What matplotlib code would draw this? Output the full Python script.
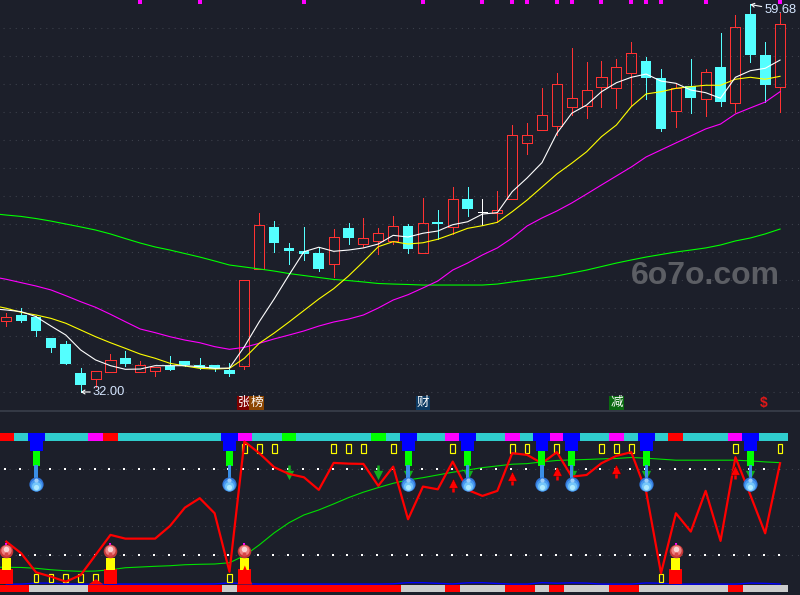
import matplotlib
matplotlib.use('Agg')
import matplotlib.pyplot as plt
import numpy as np

plt.rcParams['font.family'] = ['Liberation Sans', 'Noto Sans CJK SC', 'DejaVu Sans']

# daily candles
highs = [37.66, 38.00, 37.43, 35.84, 35.64, 33.69, 33.48, 34.71, 34.93, 34.21, 33.79, 34.57, 34.21, 34.43,
         33.93, 34.05, 39.98, 44.76, 44.21, 42.64, 43.79, 42.34, 43.64, 44.07, 44.43, 43.71, 44.57, 44.00,
         45.86, 45.00, 46.64, 46.64, 45.79, 46.36, 51.07, 51.19, 53.71, 54.79, 56.57, 55.57, 55.64, 55.79,
         57.00, 55.93, 55.07, 54.05, 55.79, 55.07, 57.64, 58.93, 59.68, 57.00, 59.07]
lows = [36.71, 37.00, 36.02, 34.88, 34.02, 32.00, 32.36, 33.45, 33.88, 33.45, 33.16, 33.57, 33.86, 33.64,
        33.50, 33.16, 33.64, 40.81, 42.02, 41.14, 41.43, 40.64, 40.21, 42.57, 42.38, 41.86, 42.59, 41.95,
        41.95, 42.91, 43.26, 44.57, 43.93, 44.14, 45.81, 49.02, 50.74, 50.36, 51.79, 51.59, 52.38, 52.31,
        52.50, 52.93, 50.66, 50.95, 51.95, 51.74, 52.43, 52.02, 55.57, 52.71, 52.02]
opens = [37.09, 37.50, 37.38, 35.84, 35.43, 33.36, 32.91, 33.45, 34.43, 33.45, 33.52, 33.88, 34.19, 33.93,
         33.93, 33.57, 33.88, 40.81, 43.79, 42.29, 42.07, 41.93, 41.16, 43.71, 42.59, 42.81, 42.81, 43.86,
         41.95, 44.14, 43.81, 45.79, 44.86, 44.81, 45.81, 49.81, 50.74, 51.02, 52.38, 52.45, 53.81, 53.74,
         54.81, 55.64, 54.43, 52.05, 53.86, 52.91, 55.21, 52.62, 59.00, 56.07, 53.76]
closes = [37.34, 37.09, 36.38, 35.16, 34.02, 32.52, 33.48, 34.26, 34.02, 33.91, 33.76, 33.57, 33.93, 33.74,
          33.64, 33.31, 39.98, 43.91, 42.66, 42.09, 41.86, 40.79, 43.05, 43.02, 42.98, 43.34, 43.84, 42.24,
          44.05, 44.02, 45.76, 45.09, 44.86, 45.00, 50.34, 50.34, 51.76, 53.98, 52.98, 53.55, 54.48, 55.19,
          56.19, 54.43, 50.79, 53.69, 53.00, 54.84, 52.74, 58.05, 56.07, 53.93, 58.26]

# moving averages, first value is the day before the visible window
ma5 = [37.95, 37.86, 37.74, 37.38, 36.71, 36.07, 35.00, 34.29, 33.88, 33.62, 33.64, 33.88, 33.88, 33.88, 33.81,
       33.69, 33.71, 35.24, 37.02, 38.64, 40.36, 42.02, 42.34, 42.05, 42.14, 42.29, 42.57, 43.19, 43.07,
       43.34, 43.50, 43.95, 44.16, 44.71, 44.81, 46.31, 47.29, 48.38, 50.48, 51.91, 52.50, 53.45, 54.09,
       54.48, 54.71, 54.21, 54.05, 53.57, 53.38, 52.98, 54.48, 54.95, 55.12, 55.71]
ma10 = [38.20, 37.98, 37.69, 37.50, 37.26, 36.91, 36.43, 35.95, 35.52, 35.12, 34.71, 34.41, 34.05, 33.86, 33.69,
        33.64, 33.69, 34.41, 35.48, 36.21, 37.00, 37.82, 38.64, 39.38, 40.29, 41.31, 42.38, 42.74, 42.57,
        42.66, 42.91, 43.29, 43.69, 43.88, 44.12, 44.88, 45.71, 46.64, 47.57, 48.34, 49.16, 50.24, 51.07,
        52.38, 53.29, 53.45, 53.69, 53.81, 53.91, 53.91, 54.34, 54.48, 54.34, 54.55]
ma20 = [40.25, 40.05, 39.81, 39.57, 39.29, 38.88, 38.45, 38.05, 37.55, 37.02, 36.50, 36.24, 35.95, 35.71, 35.52,
        35.24, 35.05, 35.19, 35.48, 35.79, 36.07, 36.36, 36.71, 37.00, 37.21, 37.50, 38.00, 38.57, 38.95,
        39.43, 39.93, 40.71, 41.21, 41.79, 42.29, 43.00, 43.86, 44.43, 44.93, 45.50, 46.14, 46.79, 47.43,
        48.07, 48.79, 49.29, 49.79, 50.29, 50.79, 51.14, 51.86, 52.29, 52.71, 53.45]
ma60 = [44.75, 44.64, 44.54, 44.39, 44.21, 44.00, 43.79, 43.57, 43.29, 42.96, 42.64, 42.36, 42.14, 41.89, 41.64,
        41.36, 41.07, 40.93, 40.79, 40.64, 40.46, 40.32, 40.18, 40.04, 39.96, 39.86, 39.75, 39.71, 39.68,
        39.64, 39.64, 39.64, 39.64, 39.64, 39.71, 39.86, 40.00, 40.14, 40.29, 40.50, 40.71, 40.96, 41.21,
        41.43, 41.64, 41.82, 42.00, 42.14, 42.29, 42.50, 42.79, 43.00, 43.29, 43.64]

# lower panel oscillator lines
osc_red = [29.3, 21.2, 7.9, 4.9, 1.4, 6.0, 20.0, 34.0, 31.4, 31.4, 31.4, 40.2, 53.0, 59.6, 49.1, 8.3, 99.1,
           91.0, 81.2, 76.5, 74.2, 65.4, 84.2, 83.7, 83.5, 68.2, 81.6, 44.9, 67.7, 65.8, 85.1, 65.4, 61.2,
           64.7, 91.0, 89.8, 84.0, 91.7, 74.6, 75.8, 84.0, 89.1, 91.7, 64.2, 7.2, 49.1, 36.3, 64.7, 29.8,
           88.2, 61.9, 35.1, 84.0]
osc_green = [11.5, 11.4, 11.3, 10.7, 9.7, 9.0, 8.6, 8.8, 9.7, 11.1, 11.6, 12.1, 12.5, 13.2, 13.5, 13.7, 14.6, 19.5,
             27.0, 35.4, 42.5, 47.9, 51.4, 55.6, 60.0, 63.8, 67.0, 70.0, 72.3, 73.9, 75.8, 77.7, 79.3, 80.9,
             82.1, 83.3, 83.7, 84.9, 85.9, 86.3, 86.6, 87.0, 87.3, 88.0, 87.5, 86.8, 86.1, 86.1, 86.1, 86.1,
             86.1, 85.6, 84.9, 84.4]
base_blue = [-0.3, -0.3, 0.4, 0.4, -0.2, -0.3, -0.3, -0.3, -0.3, -0.3, -0.3, -0.3, -0.3, -0.3, -0.2, 0.5, 0.0,
             -0.3, -0.3, -0.3, -0.3, -0.3, -0.3, -0.3, -0.3, -0.3, -0.1, 0.7, 0.7, 0.2, -0.2, 0.6, 0.7, 0.1,
             -0.3, -0.3, 0.7, 0.3, 0.6, 0.4, -0.3, -0.3, -0.3, 0.5, 0.3, -0.3, -0.3, -0.3, -0.3, -0.3, 0.4, 0.2, -0.3]

# per-candle colour codes of the two strips
top_strip = ('rcbcccmr' 'ccccccc' 'bmccg' 'ccccc' 'gcbccmbccmcbmbccmcbcrcccmbcc')
bottom_strip = ('RRGGGGRRRRRRRRRGRRRRRRRRRRRGGGRGGGRRGRGGGRRGGGGGGRGGG')

# signal candles
buy_idx = [0, 7, 16, 45]
sell_idx = [2, 15, 27, 31, 36, 38, 43, 50]
down_arrow_idx = [19, 25, 27, 31, 38, 43, 50]
up_arrow_idx = [30, 34, 37, 41, 49]
up_arrow_tips = [72.3, 77.2, 80.9, 82.3, 81.6]
box_top_idx = [16, 17, 18, 22, 23, 24, 26, 30, 34, 35, 37, 40, 41, 42, 49, 52]
box_bottom_idx = [2, 3, 4, 5, 6, 15, 44]
marker_idx = [9, 13, 20, 28, 32, 34, 35, 37, 38, 40, 42, 43, 44, 47, 52]
tri_idx = [6, 16]
tri_tops = [3.5, 13.0]

price_grid = [32, 34, 36, 38, 40, 42, 44, 46, 48, 50, 52, 54, 56, 58]
osc_grid = [20, 40, 60, 80]
low_price = 32.00
high_price = 59.68

BG = '#1c1f2a'
GRID = '#3c404b'
RED = '#ff3232'
CYAN = '#54ffff'
STRIP = {'r': '#ff0000', 'c': '#2fcdcd', 'b': '#0000ff', 'm': '#ff00ff', 'g': '#00ff00',
         'R': '#ff0000', 'G': '#cccccc'}

fig = plt.figure(figsize=(8, 5.95), dpi=100, facecolor=BG)
ax = fig.add_axes([0, 185 / 595, 1, 410 / 595], facecolor=BG)
ax2 = fig.add_axes([0, 0, 1, 184 / 595], facecolor=BG)

x = np.arange(len(closes))
x_lead = np.arange(-1, len(closes))
for a in (ax, ax2):
    a.set_xlim(-0.423, 53.34)
    a.set_xticks([])
    a.set_yticks([])
    for s in a.spines.values():
        s.set_visible(False)
ax.set_ylim(60 - 410 / 14, 60)
ax2.set_ylim(-7.91, 120.4)
ax2.spines['top'].set_visible(True)
ax2.spines['top'].set_color('#3a3f4b')
ax2.spines['top'].set_linewidth(1.2)

# upper panel
ax.hlines(price_grid, -0.2, 53.34, color=GRID, lw=0.8, linestyles=(0, (1, 4.5)), zorder=1)

for i in x:
    o, c, h, l = opens[i], closes[i], highs[i], lows[i]
    top, bot = max(o, c), min(o, c)
    if c == o:
        ax.vlines(i, l, h, color='white', lw=0.72, zorder=2, antialiased=False)
        ax.hlines(c, i - 0.33, i + 0.33, color='white', lw=0.72, zorder=2, antialiased=False)
    elif c > o:
        ax.vlines(i, top, h, color=RED, lw=0.72, zorder=2, antialiased=False)
        ax.vlines(i, l, bot, color=RED, lw=0.72, zorder=2, antialiased=False)
        ax.bar(i, top - bot, bottom=bot, width=0.68, facecolor='none', edgecolor=RED, lw=0.72, zorder=2,
               antialiased=False)
    else:
        ax.vlines(i, l, h, color=CYAN, lw=0.72, zorder=2, antialiased=False)
        ax.bar(i, top - bot, bottom=bot, width=0.72, color=CYAN, lw=0, zorder=2)

ax.plot(x_lead, ma60, color='#00ff00', lw=0.8, zorder=3)
ax.plot(x_lead, ma20, color='#ff00ff', lw=0.8, zorder=3)
ax.plot(x_lead, ma10, color='#ffff00', lw=0.8, zorder=3)
ax.plot(x_lead, ma5, color='white', lw=0.8, zorder=3)

ax.scatter(marker_idx, [59.86] * len(marker_idx), marker='s', s=8, color='#ff00ff', lw=0, zorder=4)

ax.text(41.95, 40.27, '6o7o.com', color='#5c5e64', fontsize=23, fontweight='bold',
        family='Liberation Sans', ha='left', va='center', zorder=5)

ax.annotate(f'{low_price:.2f}', xy=(5, low_price), xytext=(5.83, low_price), color='#d5e6ff', fontsize=9.3,
            va='center', arrowprops=dict(arrowstyle='->,head_width=0.15,head_length=0.25', color='white',
                                         lw=0.8, shrinkA=0, shrinkB=0), zorder=6)
ax.annotate(f'{high_price:.2f}', xy=(50, high_price), xytext=(50.95, 59.29), color='#d5e6ff', fontsize=9.3,
            va='center', arrowprops=dict(arrowstyle='->,head_width=0.15,head_length=0.25', color='white',
                                         lw=0.8, shrinkA=0, shrinkB=0), zorder=6)

label_style = dict(color='white', fontsize=9, ha='center', va='center', zorder=6)
ax.text(16, 31.21, '张', bbox=dict(facecolor='#7f0000', edgecolor='none', pad=0.6), **label_style)
ax.text(16.82, 31.21, '榜', bbox=dict(facecolor='#8b4500', edgecolor='none', pad=0.6), **label_style)
ax.text(28, 31.21, '财', bbox=dict(facecolor='#0c3a63', edgecolor='none', pad=0.6), **label_style)
ax.text(41, 31.21, '减', bbox=dict(facecolor='#0a6a10', edgecolor='none', pad=0.6), **label_style)
ax.text(50.9, 31.21, r'\$', color='#e01818', fontsize=10, fontweight='bold', ha='center', va='center', zorder=6)

# lower panel
ax2.hlines(osc_grid, -0.2, 53.34, color=GRID, lw=0.8, linestyles=(0, (1, 4.5)), zorder=1)
ax2.scatter(x - 0.07, [80] * len(x), marker='s', s=1.0, color='white', lw=0, zorder=1)
ax2.scatter(x - 0.07, [20] * len(x), marker='s', s=1.0, color='white', lw=0, zorder=1)

ax2.bar(x, [5.5] * len(x), bottom=99.6, width=1.0, lw=0, zorder=2,
        color=[STRIP[k] for k in top_strip])
ax2.bar(sell_idx, [5.5] * len(sell_idx), bottom=99.6, width=1.14, lw=0, color=STRIP['b'], zorder=2)
ax2.bar(x, [4.9] * len(x), bottom=-5.6, width=1.0, lw=0, zorder=2,
        color=[STRIP[k] for k in bottom_strip])
ax2.plot(x, base_blue, color='#0000ff', lw=1, zorder=3)

ax2.plot(x_lead, osc_green, color='#00e000', lw=0.8, zorder=4)

# hollow yellow boxes
ax2.bar(box_top_idx, [6] * len(box_top_idx), bottom=91.3, width=0.32, facecolor='none',
        edgecolor='#ffff00', lw=0.85, zorder=4)
ax2.bar(box_bottom_idx, [5.5] * len(box_bottom_idx), bottom=1.3, width=0.32, facecolor='none',
        edgecolor='#ffff00', lw=0.85, zorder=4)

# buy columns
ax2.bar(buy_idx, [10.4] * len(buy_idx), bottom=-0.2, width=0.87, color='#ff0000', lw=0, zorder=4)
ax2.bar(buy_idx, [8.6] * len(buy_idx), bottom=9.5, width=0.6, color='#ffff00', lw=0, zorder=4)
for i, t in zip(tri_idx, tri_tops):
    ax2.fill_between([i - 0.5, i, i + 0.5], [-0.2, t, -0.2], -0.2, color='#ff0000', lw=0, zorder=4)

# arrows
ax2.vlines(down_arrow_idx, 77.5, 82.8, color='#10b01c', lw=1.8, zorder=4)
ax2.scatter(down_arrow_idx, [76.0] * len(down_arrow_idx), marker='v', s=45, color='#10b01c', lw=0, zorder=4)

ax2.plot(x, osc_red, color='#ff0000', lw=1.6, zorder=5)

for i, tip in zip(up_arrow_idx, up_arrow_tips):
    ax2.vlines(i, tip - 8.4, tip - 2, color='#ff0000', lw=1.8, zorder=6)
    ax2.scatter(i, tip - 2.4, marker='^', s=45, color='#ff0000', edgecolor='#500000', lw=0.3, zorder=6)

# sell stacks with the blue balls
ax2.bar(sell_idx, [6.8] * len(sell_idx), bottom=92.8, width=0.87, color='#0000ff', lw=0, zorder=6)
ax2.bar(sell_idx, [10.5] * len(sell_idx), bottom=82.3, width=0.47, color='#00ff00', lw=0, zorder=6)
ax2.bar(sell_idx, [9.5] * len(sell_idx), bottom=73.0, width=0.22, color='#3a8ee6', lw=0, zorder=6)
ball_v = np.array([69.5] * len(sell_idx))
ax2.scatter(sell_idx, ball_v, s=105, color='#2f74d8', lw=0, zorder=7)
ax2.scatter(sell_idx, ball_v - 0.6, s=75, color='#4a9cf0', lw=0, zorder=7)
ax2.scatter(sell_idx, ball_v - 1.3, s=42, color='#74c6fa', lw=0, zorder=7)
ax2.scatter(sell_idx, ball_v - 2.0, s=14, color='#aeeaff', lw=0, zorder=7)
ax2.scatter(sell_idx, ball_v + 2.6, s=9, color='#9ccdf8', lw=0, zorder=7)

# buy balls
red_v = np.array([23.0] * len(buy_idx))
ax2.scatter(buy_idx, red_v + 5.0, marker='s', s=4, color='#ff00ff', lw=0, zorder=6)
ax2.scatter(buy_idx, red_v, s=95, color='#c43838', lw=0, zorder=7)
ax2.scatter(buy_idx, red_v + 0.5, s=55, color='#ee8080', lw=0, zorder=7)
ax2.scatter(buy_idx, red_v + 1.2, s=16, color='#f8d4d4', lw=0, zorder=7)
ax2.scatter(buy_idx, red_v - 2.0, s=8, color='#d84848', lw=0, zorder=7)

fig.savefig('out.png', dpi=100, facecolor=BG)
